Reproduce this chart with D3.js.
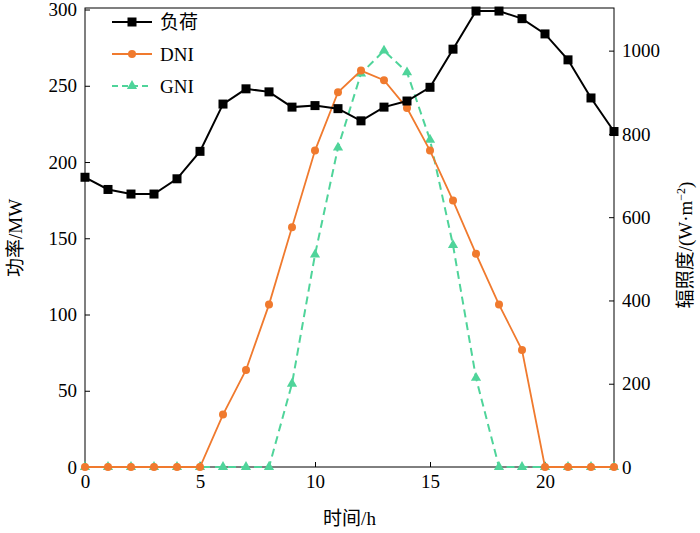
<!DOCTYPE html>
<html><head><meta charset="utf-8">
<script src="https://cdn.jsdelivr.net/npm/d3@7"></script>
<style>body{margin:0;background:#fff}text{font-family:"Liberation Serif","Noto Sans CJK SC",serif}</style>
</head><body><svg id="c" width="700" height="533"></svg>
<script>
const hours = d3.range(0, 24);
const load = [190,182,179,179,189,207,238,248,246,236,237,235,227,236,240,249,274,299,299,294,284,267,242,220];
const dni = [0,0,0,0,0,0,126,233,390,576,760,900,952,929,862,760,640,512,390,281,0,0,0,0];
const gni = [0,0,0,0,0,0,0,0,0,200,510,767,945,1000,948,786,533,214,0,0,0,0,0,0];
const leftTicks = [0,50,100,150,200,250,300];
const rightTicks = [0,200,400,600,800,1000];

const svg = d3.select("#c");
const m = {l:85, r:614, t:8, b:467};
const x = d3.scaleLinear().domain([0,23]).range([m.l,m.r]);
const yL = d3.scaleLinear().domain([0,301]).range([m.b,m.t]);
const yR = d3.scaleLinear().domain([0,1100]).range([m.b,m.t+1]);

svg.append("rect").attr("x",m.l).attr("y",m.t).attr("width",m.r-m.l).attr("height",m.b-m.t)
  .attr("fill","none").attr("stroke","#000");

const fs = 19;
const ax = (g, a) => { g.call(a); g.select(".domain").remove(); g.selectAll("text").attr("font-size",fs).attr("fill","#000"); g.selectAll("line").attr("stroke","#000"); };
svg.append("g").attr("transform",`translate(0,${m.b})`).call(g=>ax(g,d3.axisBottom(x).tickValues([0,5,10,15,20]).tickSize(-5).tickPadding(8)));
svg.append("g").attr("transform",`translate(${m.l},0)`).call(g=>ax(g,d3.axisLeft(yL).tickValues(leftTicks).tickSize(-5).tickPadding(8)));
svg.append("g").attr("transform",`translate(${m.r},0)`).call(g=>ax(g,d3.axisRight(yR).tickValues(rightTicks).tickFormat(d3.format("d")).tickSize(-5).tickPadding(8)));

svg.append("text").attr("x",(m.l+m.r)/2).attr("y",525).attr("text-anchor","middle").attr("font-size",fs).text("时间/h");
svg.append("text").attr("transform","translate(22,238) rotate(-90)").attr("text-anchor","middle").attr("font-size",fs).text("功率/MW");
const rl = svg.append("text").attr("transform","translate(692,245) rotate(-90)").attr("text-anchor","middle").attr("font-size",fs);
rl.append("tspan").text("辐照度/(W·m");
rl.append("tspan").attr("dy",-7).attr("font-size",12).text("−2");
rl.append("tspan").attr("dy",7).text(")");

const gni_c = "#4fd49a", dni_c = "#f07a2e";
// GNI
svg.append("path").datum(gni).attr("fill","none").attr("stroke",gni_c).attr("stroke-width",2).attr("stroke-dasharray","8,5")
  .attr("d", d3.line().x((d,i)=>x(hours[i])).y(d=>yR(d)));
const tri = d3.symbol().type(d3.symbolTriangle).size(45);
svg.append("g").selectAll("path").data(gni).join("path").attr("d",tri).attr("fill",gni_c)
  .attr("transform",(d,i)=>`translate(${x(hours[i])},${yR(d)})`);
// DNI
svg.append("path").datum(dni).attr("fill","none").attr("stroke",dni_c).attr("stroke-width",1.8)
  .attr("d", d3.line().x((d,i)=>x(hours[i])).y(d=>yR(d)));
svg.append("g").selectAll("circle").data(dni).join("circle").attr("r",4).attr("fill",dni_c)
  .attr("cx",(d,i)=>x(hours[i])).attr("cy",d=>yR(d));
// load
svg.append("path").datum(load).attr("fill","none").attr("stroke","#000").attr("stroke-width",2)
  .attr("d", d3.line().x((d,i)=>x(hours[i])).y(d=>yL(d)));
svg.append("g").selectAll("rect").data(load).join("rect").attr("width",9).attr("height",9).attr("fill","#000")
  .attr("x",(d,i)=>x(hours[i])-4.5).attr("y",d=>yL(d)-4.5);

// legend
const lg = svg.append("g").attr("transform","translate(112,22)");
const items = [["负荷","#000","sq",null],["DNI",dni_c,"ci",null],["GNI",gni_c,"tr","6,4"]];
items.forEach((it,i)=>{
  const g = lg.append("g").attr("transform",`translate(0,${i*32})`);
  g.append("line").attr("x1",0).attr("x2",40).attr("stroke",it[1]).attr("stroke-width",2).attr("stroke-dasharray",it[3]);
  if (it[2]==="sq") g.append("rect").attr("x",15.5).attr("y",-4.5).attr("width",9).attr("height",9).attr("fill",it[1]);
  if (it[2]==="ci") g.append("circle").attr("cx",20).attr("r",4).attr("fill",it[1]);
  if (it[2]==="tr") g.append("path").attr("d",tri).attr("transform","translate(20,0)").attr("fill",it[1]);
  g.append("text").attr("x",48).attr("y",7).attr("font-size",fs).text(it[0]);
});
</script></body></html>
